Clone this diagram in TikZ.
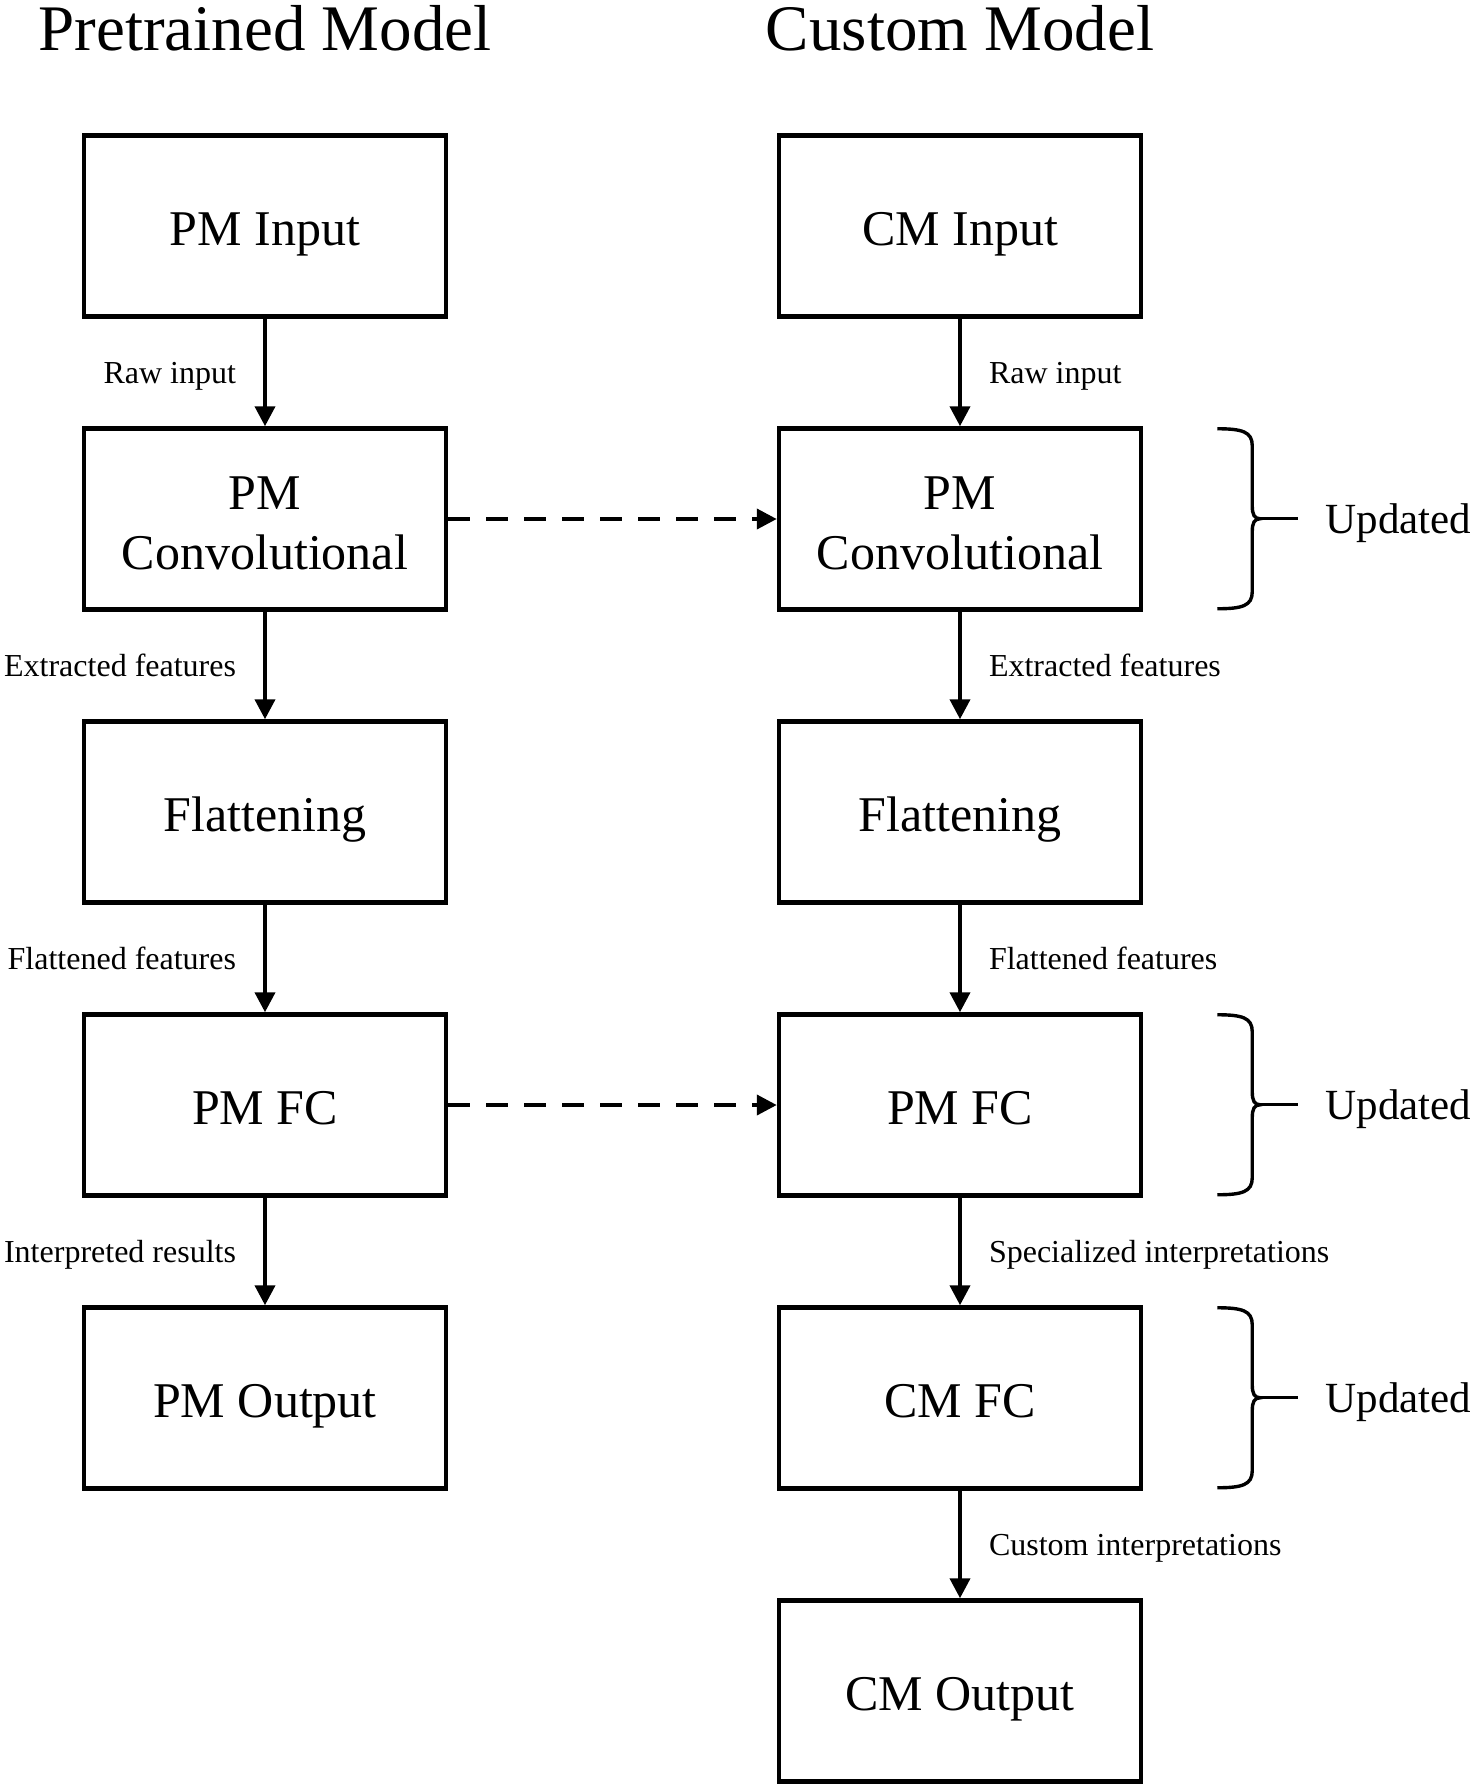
\documentclass[tikz,border=0pt]{standalone}
\usepackage{fontspec}
\setmainfont{Liberation Serif}
\usetikzlibrary{positioning, arrows.meta}

\begin{document}
\begin{tikzpicture}[x=0.5pt, y=-0.5pt, node distance = 53.75pt,
    frame/.style = {draw, rectangle, line width=2.25pt, minimum width=181pt, minimum height=90.5pt, inner sep=0pt, align=center, font=\fontsize{25}{30}\selectfont},
    box/.style = {frame, text height=19.5pt, text depth=0pt},
    box2/.style = {frame, text height=50pt, text depth=0pt},
    ttl/.style = {anchor=base, font=\fontsize{32.5}{39}\selectfont},
    lbl/.style = {inner sep=0pt, text depth=0pt, font=\fontsize{16}{19}\selectfont},
    upd/.style = {inner sep=0pt, text depth=0pt, font=\fontsize{21.5}{26}\selectfont},
    arr/.style = {-{Triangle[length=10pt, width=10pt]}, line width=2pt},
    dsh/.style = {dash pattern=on 11pt off 8pt},
    brc/.style = {line width=1.7pt}]
  \useasboundingbox (0, 0) rectangle (1476, 1789);

  \node[ttl] at (265, 50) (pmtitle) {Pretrained Model};
  \node[ttl] at (960, 50) (cmtitle) {Custom Model};

  \node[box] at (265, 226) (pminput) {PM Input};
  \node[below = of pminput, box2] (pmconv) {PM\\Convolutional};
  \node[below = of pmconv, box] (pmflat) {Flattening};
  \node[below = of pmflat, box] (pmfc) {PM FC};
  \node[below = of pmfc, box] (pmout) {PM Output};

  \node[box] at (960, 226) (cminput) {CM Input};
  \node[below = of cminput, box2] (cmconv) {PM\\Convolutional};
  \node[below = of cmconv, box] (cmflat) {Flattening};
  \node[below = of cmflat, box] (cmpmfc) {PM FC};
  \node[below = of cmpmfc, box] (cmfc) {CM FC};
  \node[below = of cmfc, box] (cmout) {CM Output};

  \draw[arr] (pminput) -- node[lbl, left = 13.5pt] {Raw input} (pmconv);
  \draw[arr] (pmconv) -- node[lbl, left = 13.5pt] {Extracted features} (pmflat);
  \draw[arr] (pmflat) -- node[lbl, left = 13.5pt] {Flattened features} (pmfc);
  \draw[arr] (pmfc) -- node[lbl, left = 13.5pt] {Interpreted results} (pmout);

  \draw[arr] (cminput) -- node[lbl, right = 13.5pt] {Raw input} (cmconv);
  \draw[arr] (cmconv) -- node[lbl, right = 13.5pt] {Extracted features} (cmflat);
  \draw[arr] (cmflat) -- node[lbl, right = 13.5pt] {Flattened features} (cmpmfc);
  \draw[arr] (cmpmfc) -- node[lbl, right = 13.5pt] {Specialized interpretations} (cmfc);
  \draw[arr] (cmfc) -- node[lbl, right = 13.5pt] {Custom interpretations} (cmout);

  \draw[arr, dsh] (pmconv) -- (cmconv);
  \draw[arr, dsh] (pmfc) -- (cmpmfc);

  \foreach \b in {cmconv, cmpmfc, cmfc} {
    \draw[brc] ([xshift=37pt, yshift=-1.25pt]\b.north east) .. controls +(25, 0) and +(0, -14) .. ++(35, 17)
      -- ++(0, 60) .. controls +(0, 9) and +(-6, 0) .. ++(8, 13) coordinate (\b tip)
      .. controls +(-6, 0) and +(0, -9) .. ++(-8, 13) -- ++(0, 60)
      .. controls +(0, 14) and +(25, 0) .. ++(-35, 17);
    \draw[brc] (\b tip) -- ++(38, 0) coordinate (\b end);
    \node[upd, right = 13.5pt of \b end] (\b upd) {Updated};
  }
\end{tikzpicture}
\end{document}
